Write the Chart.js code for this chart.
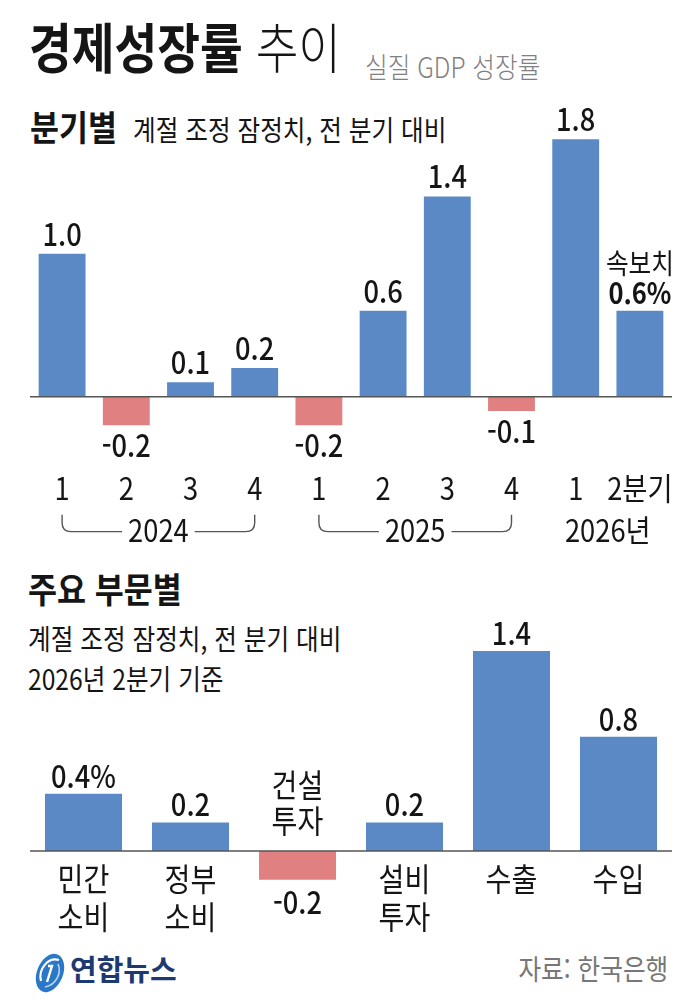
<!DOCTYPE html>
<html lang="ko">
<head>
<meta charset="UTF-8">
<title>경제성장률 추이</title>
<script src="https://cdn.jsdelivr.net/npm/chart.js@4.4.1/dist/chart.umd.min.js"></script>
<style>
    html, body { margin: 0; padding: 0; background: #fff; }
    body { width: 700px; height: 1001px; position: relative; overflow: hidden;
           font-family: "Noto Sans CJK KR", "Noto Sans", sans-serif; color: #151515; }
    .t { position: absolute; white-space: nowrap; line-height: 1; transform-origin: left top; }
    canvas { position: absolute; left: 0; }
</style>
</head>
<body>
<div class="t" style="left:29px;top:19px;font-size:54px;transform:scaleX(0.86)"><b>경제성장률</b> <span style="font-weight:300">추이</span></div>
<div class="t" style="left:365px;top:52px;font-size:28px;font-weight:300;color:#808080;transform:scaleX(0.88)">실질 GDP 성장률</div>
<div class="t" style="left:30px;top:108px;font-size:35px;font-weight:700;transform:scaleX(0.9)">분기별</div>
<div class="t" style="left:133px;top:115px;font-size:28px;transform:scaleX(0.88)">계절 조정 잠정치, 전 분기 대비</div>

<canvas id="quarterChart" width="700" height="472" style="top:82px"></canvas>

<div class="t" style="left:28px;top:570px;font-size:35px;font-weight:700;transform:scaleX(0.9)">주요 부문별</div>
<div class="t" style="left:28px;top:624px;font-size:28px;transform:scaleX(0.88)">계절 조정 잠정치, 전 분기 대비</div>
<div class="t" style="left:28px;top:664px;font-size:28px;transform:scaleX(0.88)">2026년 2분기 기준</div>

<canvas id="sectorChart" width="700" height="336" style="top:608px"></canvas>

<svg style="position:absolute;left:32px;top:951px" width="36" height="44" viewBox="0 0 36 44">
    <ellipse cx="18" cy="22" rx="13" ry="20" transform="rotate(22 18 22)" fill="#2c78c8"/>
    <path d="M9 30 C 6 18, 16 6, 27 9" stroke="#fff" stroke-width="2.2" fill="none"/>
    <path d="M13 36 C 24 34, 30 22, 26 13" stroke="#bcd8f2" stroke-width="1.6" fill="none"/>
    <path d="M16 15 L 20 15 L 15 31" stroke="#fff" stroke-width="2.4" fill="none"/>
</svg>
<div class="t" style="left:70px;top:954px;font-size:29px;font-weight:700;color:#1d3a70">연합뉴스</div>
<div class="t" style="right:32px;top:954px;font-size:28px;color:#777;transform:scaleX(0.88);transform-origin:right top">자료: 한국은행</div>

<script>
    // quarterly growth, seasonally adjusted, q/q
    const quarters = ['1', '2', '3', '4', '1', '2', '3', '4', '1', '2분기'];
    const quarterGrowth = [1.0, -0.2, 0.1, 0.2, -0.2, 0.6, 1.4, -0.1, 1.8, 0.6];
    const quarterPctIndex = 9;          // preliminary figure, shown with %
    const yearLabels = ['2024', '2025', '2026년'];
    const yearSpans = [[0, 3], [4, 7], [8, 9]];
    const yearBracket = [true, true, false];

    // by sector, 2026 Q2
    const sectors = [['민간', '소비'], ['정부', '소비'], ['건설', '투자'], ['설비', '투자'], ['수출'], ['수입']];
    const sectorGrowth = [0.4, 0.2, -0.2, 0.2, 1.4, 0.8];
    const sectorPctIndex = 0;

    const BLUE = '#5b89c6';
    const RED = '#e08081';
    const FONT = '"Noto Sans CJK KR", "Noto Sans", sans-serif';
    const SX = 0.88;

    function txt(ctx, s, x, y, font, color) {
        ctx.save();
        ctx.font = font;
        ctx.fillStyle = color || '#151515';
        ctx.textAlign = 'center';
        ctx.textBaseline = 'alphabetic';
        ctx.translate(x, y);
        ctx.scale(SX, 1);
        ctx.fillText(s, 0, 0);
        ctx.restore();
    }

    function txtWidth(ctx, s, font) {
        ctx.save();
        ctx.font = font;
        const w = ctx.measureText(s).width * SX;
        ctx.restore();
        return w;
    }

    function axisLine(chart) {
        const {ctx, chartArea, scales: {y}} = chart;
        const y0 = y.getPixelForValue(0);
        ctx.save();
        ctx.strokeStyle = '#555';
        ctx.lineWidth = 1.5;
        ctx.beginPath();
        ctx.moveTo(chartArea.left, y0);
        ctx.lineTo(chartArea.right, y0);
        ctx.stroke();
        ctx.restore();
        return y0;
    }

    const quarterLabels = {
        id: 'quarterLabels',
        afterDatasetsDraw(chart) {
            const {ctx, scales: {x}} = chart;
            const y0 = axisLine(chart);
            const valFont = '500 31px ' + FONT;

            chart.getDatasetMeta(0).data.forEach(function (bar, i) {
                const v = quarterGrowth[i];
                if (i === quarterPctIndex) {
                    txt(ctx, '속보치', bar.x, bar.y - 37, '400 28px ' + FONT);
                    txt(ctx, v.toFixed(1) + '%', bar.x, bar.y - 7, '700 29px ' + FONT);
                } else if (v >= 0) {
                    txt(ctx, v.toFixed(1), bar.x, bar.y - 8, valFont);
                } else {
                    txt(ctx, v.toFixed(1), bar.x, bar.y + 32, valFont);
                }
            });

            const tickFont = '400 31px ' + FONT;
            quarters.forEach(function (q, i) {
                txt(ctx, q, x.getPixelForValue(i), y0 + 103, tickFont);
            });

            yearLabels.forEach(function (lab, k) {
                const xa = x.getPixelForValue(yearSpans[k][0]);
                const xb = x.getPixelForValue(yearSpans[k][1]);
                const xm = (xa + xb) / 2;
                txt(ctx, lab, xm, y0 + 145, tickFont);
                if (!yearBracket[k]) return;
                const w = txtWidth(ctx, lab, tickFont);
                const top = y0 + 118, ly = y0 + 135, r = 9;
                ctx.save();
                ctx.strokeStyle = '#555';
                ctx.lineWidth = 1.4;
                ctx.beginPath();
                ctx.moveTo(xa, top);
                ctx.lineTo(xa, ly - r);
                ctx.quadraticCurveTo(xa, ly, xa + r, ly);
                ctx.lineTo(xm - w / 2 - 6, ly);
                ctx.moveTo(xm + w / 2 + 6, ly);
                ctx.lineTo(xb - r, ly);
                ctx.quadraticCurveTo(xb, ly, xb, ly - r);
                ctx.lineTo(xb, top);
                ctx.stroke();
                ctx.restore();
            });
        }
    };

    const sectorLabels = {
        id: 'sectorLabels',
        afterDatasetsDraw(chart) {
            const {ctx} = chart;
            const y0 = axisLine(chart);
            const valFont = '500 31px ' + FONT;
            const catFont = '400 32px ' + FONT;

            chart.getDatasetMeta(0).data.forEach(function (bar, i) {
                const v = sectorGrowth[i];
                const s = v.toFixed(1) + (i === sectorPctIndex ? '%' : '');
                const lines = sectors[i];
                if (v >= 0) {
                    txt(ctx, s, bar.x, bar.y - 6, valFont);
                    lines.forEach(function (ln, j) {
                        txt(ctx, ln, bar.x, y0 + 40 + j * 38, catFont);
                    });
                } else {
                    txt(ctx, s, bar.x, bar.y + 34, valFont);
                    lines.forEach(function (ln, j) {
                        txt(ctx, ln, bar.x, y0 - 54 + j * 36, catFont);
                    });
                }
            });
        }
    };

    function barChart(id, labels, values, yMin, yMax, barPct, plugin) {
        return new Chart(document.getElementById(id), {
            type: 'bar',
            data: {
                labels: labels,
                datasets: [{
                    data: values,
                    backgroundColor: values.map(v => v < 0 ? RED : BLUE),
                    borderWidth: 0,
                    barPercentage: barPct,
                    categoryPercentage: 1
                }]
            },
            options: {
                responsive: false,
                animation: false,
                layout: {padding: {left: 30, right: 28, top: 0, bottom: 0}},
                plugins: {legend: {display: false}, tooltip: {enabled: false}},
                scales: {
                    x: {display: false},
                    y: {display: false, min: yMin, max: yMax}
                }
            },
            plugins: [plugin]
        });
    }

    barChart('quarterChart', quarters, quarterGrowth, -1.1, 2.2, 0.73, quarterLabels);
    barChart('sectorChart', sectors.map(s => s.join('')), sectorGrowth, -0.65, 1.7, 0.72, sectorLabels);
</script>
</body>
</html>
